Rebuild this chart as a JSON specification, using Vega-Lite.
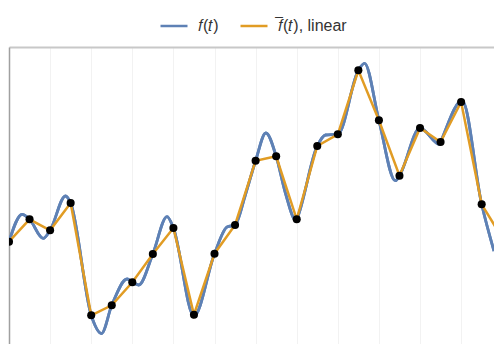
{
  "$schema": "https://vega.github.io/schema/vega-lite/v6.json",
  "width": 485,
  "height": 297,
  "padding": {"left": 9, "top": 47, "right": 0, "bottom": 0},
  "autosize": {"type": "none"},
  "background": "white",
  "config": {
    "view": {"stroke": null},
    "font": "Liberation Sans",
    "legend": {
      "orient": "none",
      "legendX": 150,
      "legendY": -36,
      "direction": "horizontal",
      "symbolType": "stroke",
      "symbolSize": 729,
      "symbolStrokeWidth": 2.5,
      "labelFontSize": 16,
      "labelColor": "#333333",
      "labelFont": "Liberation Sans",
      "columnPadding": 16,
      "labelOffset": 9,
      "padding": 0
    }
  },
  "datasets": {
    "samples": [
      {"t": -12, "v": -0.407}, {"t": -11, "v": -0.183}, {"t": -10, "v": -0.293},
      {"t": -9, "v": -0.02}, {"t": -8, "v": -1.143}, {"t": -7, "v": -1.043},
      {"t": -6, "v": -0.813}, {"t": -5, "v": -0.53}, {"t": -4, "v": -0.27},
      {"t": -3, "v": -1.137}, {"t": -2, "v": -0.527}, {"t": -1, "v": -0.24},
      {"t": 0, "v": 0.403}, {"t": 1, "v": 0.447}, {"t": 2, "v": -0.183},
      {"t": 3, "v": 0.55}, {"t": 4, "v": 0.667}, {"t": 5, "v": 1.307},
      {"t": 6, "v": 0.807}, {"t": 7, "v": 0.253}, {"t": 8, "v": 0.73},
      {"t": 9, "v": 0.59}, {"t": 10, "v": 0.99}, {"t": 11, "v": -0.033},
      {"t": 12, "v": -0.37}
    ],
    "curve": [
      {"t": -12, "v": -0.407}, {"t": -11.36, "v": -0.133}, {"t": -11, "v": -0.183},
      {"t": -10.34, "v": -0.373}, {"t": -10, "v": -0.293}, {"t": -9.25, "v": 0.05},
      {"t": -9, "v": -0.02}, {"t": -8, "v": -1.143}, {"t": -7.5, "v": -1.325},
      {"t": -7, "v": -1.043}, {"t": -6.25, "v": -0.78}, {"t": -6, "v": -0.813},
      {"t": -5.69, "v": -0.84}, {"t": -5, "v": -0.53}, {"t": -4.31, "v": -0.157},
      {"t": -4, "v": -0.27}, {"t": -3, "v": -1.15}, {"t": -2, "v": -0.527},
      {"t": -1.39, "v": -0.26}, {"t": -1, "v": -0.24}, {"t": -0.5, "v": 0.06},
      {"t": 0, "v": 0.403}, {"t": 0.5, "v": 0.68}, {"t": 1, "v": 0.447},
      {"t": 1.45, "v": 0.08}, {"t": 1.97, "v": -0.195}, {"t": 2, "v": -0.183},
      {"t": 3, "v": 0.55}, {"t": 3.4, "v": 0.66}, {"t": 4, "v": 0.667},
      {"t": 5, "v": 1.307}, {"t": 5.3, "v": 1.377}, {"t": 6, "v": 0.807},
      {"t": 6.8, "v": 0.203}, {"t": 7, "v": 0.253}, {"t": 8, "v": 0.73},
      {"t": 8.95, "v": 0.567}, {"t": 9, "v": 0.59}, {"t": 10.05, "v": 1.003},
      {"t": 11, "v": -0.033}, {"t": 11.6, "v": -0.5}
    ]
  },
  "layer": [
    {
      "data": {"name": "curve"},
      "mark": {"type": "line", "interpolate": "monotone", "strokeWidth": 2.8, "clip": true},
      "encoding": {
        "x": {
          "field": "t", "type": "quantitative",
          "scale": {"domain": [-12, 11.6], "nice": false, "zero": false},
          "axis": {
            "orient": "top", "values": [-12,-11,-10,-9,-8,-7,-6,-5,-4,-3,-2,-1,0,1,2,3,4,5,6,7,8,9,10,11],
            "grid": true, "gridColor": "#f2f2f2", "gridWidth": 1,
            "domainColor": "#c8c8c8", "domainWidth": 2,
            "ticks": false, "labels": false, "title": null
          }
        },
        "y": {
          "field": "v", "type": "quantitative",
          "scale": {"domain": [-1.43, 1.54], "nice": false, "zero": false},
          "axis": {
            "orient": "left", "grid": false, "ticks": false, "labels": false,
            "title": null, "domainColor": "#a0a0a0", "domainWidth": 1.5
          }
        },
        "color": {
          "datum": "𝑓(𝑡)",
          "type": "nominal",
          "scale": {"domain": ["𝑓(𝑡)", "𝑓̅(𝑡), linear"], "range": ["#5E81B5", "#E19C24"]},
          "legend": {"title": null}
        }
      }
    },
    {
      "mark": {"type": "rule", "color": "#cccccc", "strokeWidth": 1},
      "encoding": {"x": {"datum": 0}}
    },
    {
      "mark": {"type": "rule", "color": "#d9d9d9", "strokeWidth": 1},
      "encoding": {"y": {"datum": 0}}
    },
    {
      "data": {"name": "curve"},
      "mark": {"type": "line", "interpolate": "monotone", "strokeWidth": 2.8, "clip": true},
      "encoding": {
        "x": {"field": "t", "type": "quantitative"},
        "y": {"field": "v", "type": "quantitative"},
        "color": {"datum": "𝑓(𝑡)", "type": "nominal"}
      }
    },
    {
      "data": {"name": "samples"},
      "mark": {"type": "line", "strokeWidth": 2.5, "clip": true},
      "encoding": {
        "x": {"field": "t", "type": "quantitative"},
        "y": {"field": "v", "type": "quantitative"},
        "color": {"datum": "𝑓̅(𝑡), linear", "type": "nominal"}
      }
    },
    {
      "data": {"name": "samples"},
      "mark": {"type": "point", "filled": true, "color": "black", "opacity": 1, "size": 65, "clip": true},
      "encoding": {
        "x": {"field": "t", "type": "quantitative"},
        "y": {"field": "v", "type": "quantitative"}
      }
    }
  ]
}
